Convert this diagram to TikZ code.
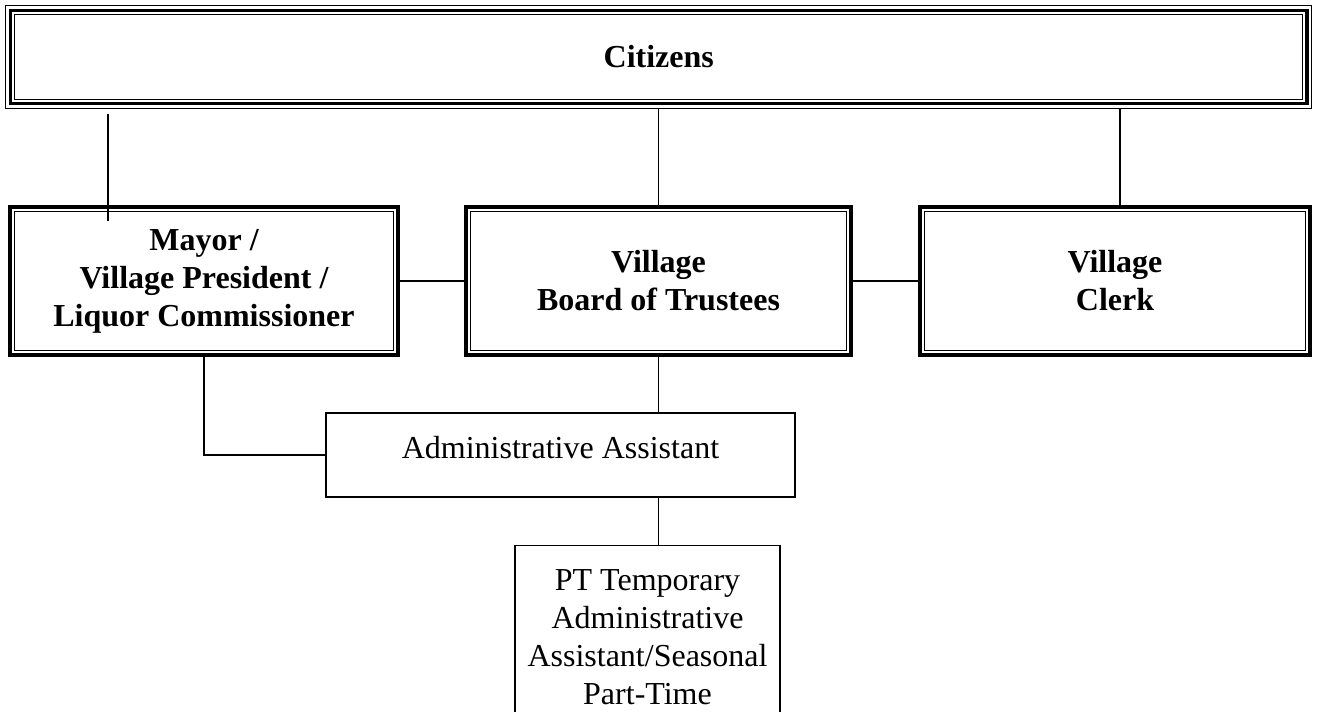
\documentclass[tikz,border=0pt]{standalone}
\usepackage{fontspec}
\setmainfont{Liberation Serif}
\begin{document}
\begin{tikzpicture}[x=0.375pt, y=-0.375pt,
   every node/.style={font=\fontsize{12}{14.25}\selectfont, align=center, inner sep=0pt},
   link/.style={line width=0.5pt},
   citbox/.style={draw, line width=1.4pt, outer sep=1.9pt,
      preaction={draw, line width=3.75pt}, preaction={draw=white, line width=3pt},
      font=\fontsize{12}{14.25}\selectfont\bfseries,
      minimum width=486.2pt, minimum height=34.9pt},
   officebox/.style={draw, line width=1.5pt, outer sep=0.75pt,
      font=\fontsize{12}{14.25}\selectfont\bfseries,
      minimum width=145.5pt, minimum height=55.5pt,
      path picture={\draw[line width=0.4pt]
         ([shift={(1.7pt,-1.7pt)}]path picture bounding box.north west) rectangle
         ([shift={(-1.7pt,1.7pt)}]path picture bounding box.south east);}},
   staffbox/.style={draw, line width=0.5pt}]
\useasboundingbox (0,0) rectangle (1317,711);
\node[citbox] (cit) at (658.75,57) {Citizens};
\node[officebox] (mayor) at (204,281) {Mayor /\\ Village President /\\ Liquor Commissioner};
\node[officebox, minimum width=144.4pt] (board) at (658.5,281) {Village\\ Board of Trustees};
\node[officebox, minimum width=146.3pt] (clerk) at (1115,281) {Village\\ Clerk};
\node[staffbox, minimum width=175.9pt, minimum height=31.5pt, text depth=6pt] (admin) at (560.5,455) {Administrative Assistant};
\node[staffbox, anchor=north, minimum width=99.4pt, minimum height=68.6pt] (pt) at (647.5,545)
   {PT Temporary\\ Administrative\\ Assistant/Seasonal\\ Part-Time};
% links to the citizens
\coordinate (mtop) at ([xshift=-36pt]mayor.north);
\coordinate (ctop) at ([xshift=1.9pt]clerk.north);
\draw[link] (mtop |- cit.south) ++(0,5) -- ([yshift=-6pt]mtop);
\draw[link] (board.north) -- (board.north |- cit.south);
\draw[link] (ctop) -- (ctop |- cit.south);
% links between offices
\draw[link] (mayor.east) -- (board.west);
\draw[link] (board.east) -- (clerk.west);
\draw[link] (board.south) -- (board.south |- admin.north);
\draw[link] (mayor.south) |- (admin.west);
\draw[link] (board.south |- admin.south) -- (board.south |- pt.north);
\end{tikzpicture}
\end{document}
